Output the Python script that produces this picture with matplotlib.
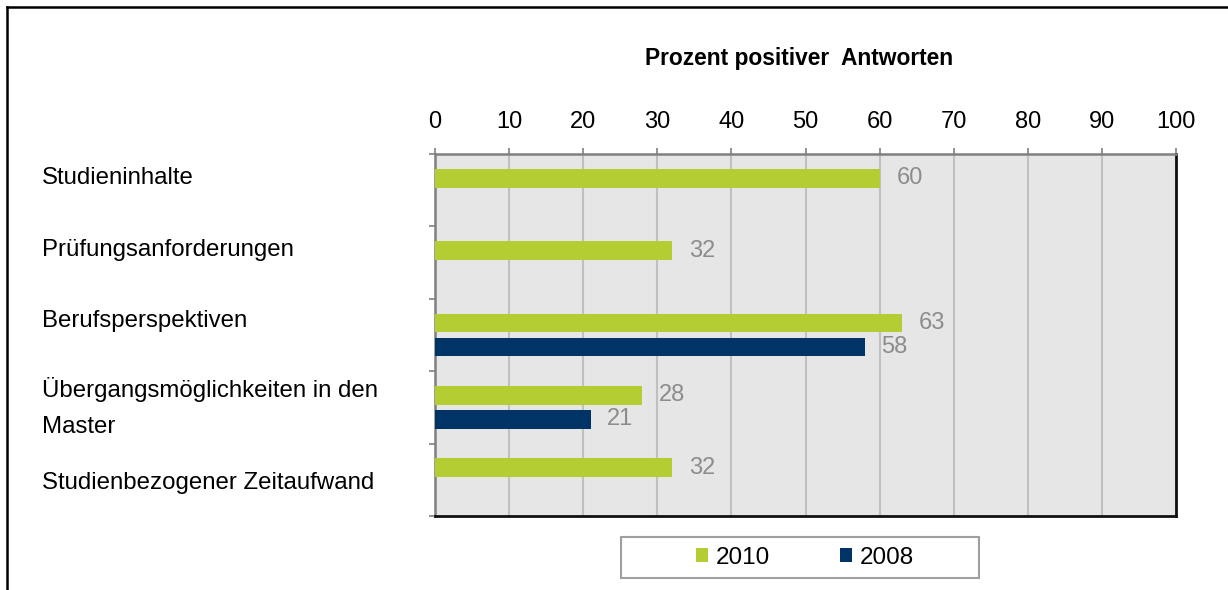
import numpy as np
import matplotlib
matplotlib.use('Agg')
from matplotlib import pyplot as plt
from matplotlib.patches import Rectangle
from matplotlib.lines import Line2D
from matplotlib.transforms import blended_transform_factory

plt.rcParams['font.family'] = ['Liberation Sans', 'DejaVu Sans']

categories = ['Studieninhalte', 'Prüfungsanforderungen', 'Berufsperspektiven',
              'Übergangsmöglichkeiten in den\nMaster', 'Studienbezogener Zeitaufwand']
values_2010 = [60, 32, 63, 28, 32]
values_2008 = [np.nan, np.nan, 58, 21, np.nan]
series_names = ['2010', '2008']
x_ticks = list(range(0, 101, 10))

green = '#b3cd32'
navy = '#003366'
label_grey = '#8c8c8c'

fig = plt.figure(figsize=(12.28, 5.9), dpi=100)
ax = fig.add_axes([435/1228, 1-516/590, (1176-435)/1228, (516-154)/590])
ax.set_facecolor('#e6e6e6')

y = np.arange(len(categories))
bar_h = 0.26
off = 0.165

b1 = ax.barh(y - off, values_2010, height=bar_h, color=green, label=series_names[0], zorder=3)
b2 = ax.barh(y + off, values_2008, height=bar_h, color=navy, label=series_names[1], zorder=3)

for yi, v in zip(y - off, values_2010):
    if not np.isnan(v):
        ax.annotate(f'{v:g}', (v, yi), xytext=(12, 0), textcoords='offset points',
                    va='center', ha='left', fontsize=17, color=label_grey)
for yi, v in zip(y + off, values_2008):
    if not np.isnan(v):
        ax.annotate(f'{v:g}', (v, yi), xytext=(12, 0), textcoords='offset points',
                    va='center', ha='left', fontsize=17, color=label_grey)

ax.set_xlim(0, 100)
ax.set_ylim(len(categories) - 0.5, -0.5)
ax.set_xticks(x_ticks)
ax.xaxis.tick_top()
ax.tick_params(axis='x', labelsize=17, length=4, width=1.2, color='#808080', pad=11)
ax.set_yticks(np.arange(-0.5, len(categories), 1.0))
ax.set_yticklabels([])
ax.tick_params(axis='y', length=4, width=1.2, color='#808080')
ax.grid(axis='x', color='#c0c0c0', lw=1.5, zorder=1)
ax.set_axisbelow(True)

for side in ['left', 'top']:
    ax.spines[side].set_color('#808080')
    ax.spines[side].set_linewidth(1.8)
for side in ['right', 'bottom']:
    ax.spines[side].set_color('#111111')
    ax.spines[side].set_linewidth(2)

# category labels, left aligned near the figure edge
label_offsets = [-0.17, -0.18, -0.2, 0.0, 0.04]
trans = blended_transform_factory(fig.transFigure, ax.transData)
for yi, cat, lo in zip(y, categories, label_offsets):
    ax.text(42/1228, yi + lo, cat, transform=trans, ha='left', va='center',
            fontsize=17.3, linespacing=1.85)

fig.text(799/1228, 1-58/590, 'Prozent positiver  Antworten', ha='center', va='center',
         fontsize=16.4, fontweight='bold')

# legend
fig.patches.append(Rectangle((621/1228, 1-578/590), (979-621)/1228, 41/590,
                             transform=fig.transFigure, fill=False,
                             edgecolor='#a0a0a0', lw=1.5))
fig.legend(handles=[b1, b2], loc='center', bbox_to_anchor=(805/1228, 1-558/590),
           ncol=2, frameon=False, fontsize=17.5, handlelength=0.5, handleheight=0.5,
           handletextpad=0.3, columnspacing=2.9)

# outer border (left and top only)
fig.lines.append(Line2D([7/1228, 7/1228], [0, 1-7/590], transform=fig.transFigure,
                        color='black', lw=1.8))
fig.lines.append(Line2D([7/1228, 1], [1-7/590, 1-7/590], transform=fig.transFigure,
                        color='black', lw=1.8))

fig.savefig('out.png', dpi=100)
